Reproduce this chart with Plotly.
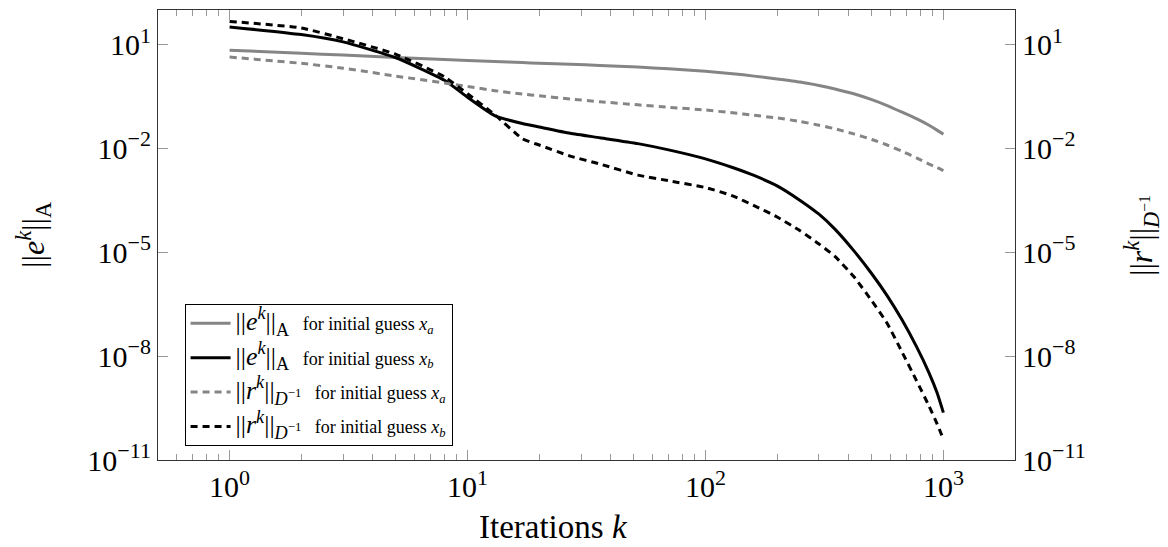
import plotly.graph_objects as go

# Iteration numbers
k = [1, 2, 3, 5, 8, 10, 13, 17, 20, 27, 36, 52, 70, 100, 130, 160, 200, 250, 300, 350,
     420, 500, 580, 670, 770, 870, 940, 1000]

# ||e^k||_A for initial guess x_a
eA_xa = [6.92, 5.62, 5.01, 4.27, 3.72, 3.47, 3.24, 3.02, 2.88, 2.69, 2.51, 2.24, 2.00, 1.70,
         1.45, 1.23, 1.02, 0.832, 0.661, 0.525, 0.380, 0.257, 0.174, 0.112, 0.0724, 0.0468,
         0.0339, 0.0257]
# ||e^k||_A for initial guess x_b
eA_xb = [32.4, 19.5, 12.0, 4.17, 0.933, 0.302, 0.0891, 0.0525, 0.0417, 0.0275, 0.0204,
         0.0138, 9.12e-3, 5.01e-3, 2.82e-3, 1.66e-3, 8.32e-4, 3.16e-4, 1.26e-4, 4.68e-5,
         1.12e-5, 2.40e-6, 5.62e-7, 1.12e-7, 1.91e-8, 3.31e-9, 8.91e-10, 2.34e-10]
# ||r^k||_{D^-1} for initial guess x_a
rD_xa = [4.37, 2.88, 2.09, 1.23, 0.776, 0.617, 0.468, 0.372, 0.331, 0.269, 0.224, 0.182,
         0.155, 0.129, 0.107, 0.0912, 0.0759, 0.0603, 0.0468, 0.0372, 0.0263, 0.0182,
         0.0126, 8.32e-3, 5.37e-3, 3.55e-3, 2.82e-3, 2.29e-3]
# ||r^k||_{D^-1} for initial guess x_b
rD_xb = [46.8, 30.2, 14.8, 5.25, 1.17, 0.380, 0.0955, 0.0191, 0.0126, 6.03e-3, 3.55e-3,
         1.70e-3, 1.17e-3, 7.41e-4, 4.27e-4, 2.24e-4, 1.05e-4, 4.17e-5, 1.74e-5, 7.59e-6,
         2.00e-6, 3.98e-7, 8.91e-8, 1.32e-8, 2.00e-9, 3.63e-10, 1.12e-10, 3.98e-11]

SUP = '<sup><span style="font-size:22px">{}</span></sup>'
x_tickvals = [1, 10, 100, 1000]
x_ticktext = ["10" + SUP.format(e) for e in ["0", "1", "2", "3"]]
y_tickvals = [1e-11, 1e-8, 1e-5, 1e-2, 1e1]
y_ticktext = ["10" + SUP.format(e) for e in ["−11", "−8", "−5", "−2", "1"]]
x_minor = [0.6, 0.7, 0.8, 0.9, 2, 3, 4, 5, 6, 7, 8, 9, 20, 30, 40, 50, 60, 70, 80, 90,
           200, 300, 400, 500, 600, 700, 800, 900]

E_NORM = '<span style="font-size:26px">||<i>e</i><sup><i>k</i></sup>||<sub>A</sub></span>'
R_NORM = '<span style="font-size:26px">||<i>r</i><sup><i>k</i></sup>||<sub><i>D</i><sup>−1</sup></sub></span>'
GUESS = '<span style="font-size:18px">   for initial guess <i>x<sub>{}</sub></i></span>'
names = {
    "eA_xa": E_NORM + GUESS.format("a"),
    "eA_xb": E_NORM + GUESS.format("b"),
    "rD_xa": R_NORM + GUESS.format("a"),
    "rD_xb": R_NORM + GUESS.format("b"),
}

GRAY = "#858585"
FONT = "Liberation Serif"
SM = 0.5

fig = go.Figure()
fig.add_trace(go.Scatter(x=k, y=eA_xa, mode="lines", name=names["eA_xa"], legendgroup="a",
                         line=dict(color=GRAY, width=3, shape="spline", smoothing=SM)))
fig.add_trace(go.Scatter(x=k, y=eA_xb, mode="lines", name=names["eA_xb"], legendgroup="b",
                         line=dict(color="black", width=3, shape="spline", smoothing=SM)))
fig.add_trace(go.Scatter(x=k, y=rD_xa, mode="lines", name=names["rD_xa"], yaxis="y2", legendgroup="c",
                         line=dict(color=GRAY, width=3, dash="7px,5px", shape="spline", smoothing=SM)))
fig.add_trace(go.Scatter(x=k, y=rD_xb, mode="lines", name=names["rD_xb"], yaxis="y2", legendgroup="d",
                         line=dict(color="black", width=3, dash="7px,5px", shape="spline", smoothing=SM)))

yaxis_common = dict(
    type="log", range=[-11, 2], tickvals=y_tickvals, ticktext=y_ticktext,
    ticks="inside", ticklen=10, tickcolor="#999999", tickwidth=1,
    showline=True, linecolor="#333333", linewidth=1.2, showgrid=False, zeroline=False,
    tickfont=dict(family=FONT, size=30, color="black"),
)

fig.update_layout(
    width=1160, height=539,
    margin=dict(l=150, r=153, t=2, b=87),
    paper_bgcolor="white", plot_bgcolor="white",
    font=dict(family=FONT, color="black"),
    showlegend=True,
    legend=dict(x=0.031, y=0.031, xanchor="left", yanchor="bottom",
                bgcolor="white", bordercolor="black", borderwidth=1,
                font=dict(family=FONT, size=18, color="black"),
                tracegroupgap=8, itemwidth=40),
    xaxis=dict(
        type="log", range=[-0.301, 3.301], tickvals=x_tickvals, ticktext=x_ticktext,
        ticks="inside", ticklen=10, tickcolor="#999999", tickwidth=1,
        minor=dict(tickvals=x_minor, ticks="inside", ticklen=6, tickcolor="#999999", tickwidth=1),
        showline=True, linecolor="#333333", linewidth=1.2, mirror="ticks",
        showgrid=False, zeroline=False,
        tickfont=dict(family=FONT, size=30, color="black"),
    ),
    yaxis=dict(**yaxis_common, side="left"),
    yaxis2=dict(**yaxis_common, side="right", overlaying="y"),
    annotations=[
        dict(text="Iterations <i>k</i>", xref="paper", yref="paper", x=0.462, y=-0.148,
             xanchor="center", yanchor="middle", showarrow=False,
             font=dict(family=FONT, size=33, color="black")),
        dict(text="||<i>e</i><sup><i>k</i></sup>||<sub>A</sub>", xref="paper", yref="paper",
             x=-0.146, y=0.5, textangle=-90, xanchor="center", yanchor="middle", showarrow=False,
             font=dict(family=FONT, size=32, color="black")),
        dict(text="||<i>r</i><sup><i>k</i></sup>||<sub><i>D</i><sup>−1</sup></sub>", xref="paper", yref="paper",
             x=1.147, y=0.5, textangle=-90, xanchor="center", yanchor="middle", showarrow=False,
             font=dict(family=FONT, size=32, color="black")),
    ],
)

fig.write_html("out.html")
